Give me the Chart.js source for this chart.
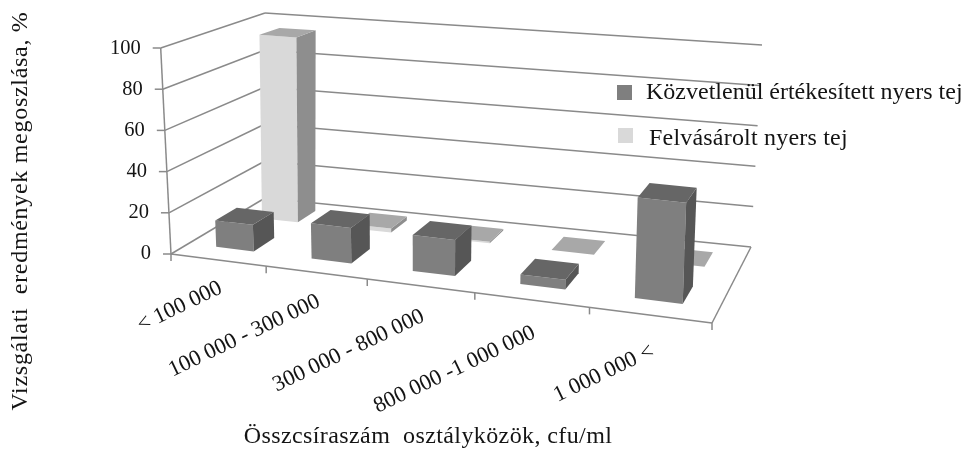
<!DOCTYPE html>
<html>
<head>
<meta charset="utf-8">
<style>
  html, body { margin: 0; background: #fff; }
  #wrap { position: relative; width: 972px; height: 449px; }
  #chart { filter: blur(0.35px); }
</style>
<script src="https://cdn.jsdelivr.net/npm/chart.js@4"></script>
</head>
<body>
<div id="wrap"><canvas id="chart"></canvas></div>
<script>
const categories = ['< 100 000', '100 000 - 300 000', '300 000 - 800 000', '800 000 -1 000 000', '1 000 000 <'];
const directSale = [13, 17, 17, 4.5, 46];
const purchased = [95, 2, 0.7, 0, 0];
const directLabel = 'Közvetlenül értékesített nyers tej';
const purchasedLabel = 'Felvásárolt nyers tej';
const yTitle = 'Vizsgálati  eredmények megoszlása, %';
const xTitle = 'Összcsíraszám  osztályközök, cfu/ml';

const FONT = '"Liberation Serif", serif';
const LINE = '#8a8a8a';
const INK = '#141414';

// floor corners and the height vector at each one (3D look of the original)
const FL = [171, 254], FR = [712, 323], BR = [751, 247], BL = [265, 198];
const riseFL = [-10.3, -206], riseFR = [8, -225], riseBR = [11, -202], riseBL = [0, -185];

const sx = FL[0] - FR[0] + BR[0] - BL[0];
const sy = FL[1] - FR[1] + BR[1] - BL[1];
const dx1 = FR[0] - BR[0], dx2 = BL[0] - BR[0];
const dy1 = FR[1] - BR[1], dy2 = BL[1] - BR[1];
const den = dx1 * dy2 - dx2 * dy1;
const pg = (sx * dy2 - dx2 * sy) / den;
const ph = (dx1 * sy - sx * dy1) / den;

// the original's category spacing along the front edge grows a bit slower
const spread = -0.146;

function project(uIn, d, h) {
  const s = uIn * (1 + spread) / (1 + spread * uIn);
  const u = s / (1 + pg - pg * s);
  const w = pg * u + ph * d + 1;
  const fx = ((FR[0] - FL[0] + pg * FR[0]) * u + (BL[0] - FL[0] + ph * BL[0]) * d + FL[0]) / w;
  const fy = ((FR[1] - FL[1] + pg * FR[1]) * u + (BL[1] - FL[1] + ph * BL[1]) * d + FL[1]) / w;
  const rise = i =>
    (1 - u) * (1 - d) * riseFL[i] + u * (1 - d) * riseFR[i] + u * d * riseBR[i] + (1 - u) * d * riseBL[i];
  return [fx + rise(0) * h, fy + rise(1) * h];
}

function line(ctx, a, b) {
  ctx.beginPath();
  ctx.moveTo(a[0], a[1]);
  ctx.lineTo(b[0], b[1]);
  ctx.stroke();
}

function face(ctx, pts, color) {
  ctx.fillStyle = color;
  ctx.beginPath();
  pts.forEach((p, i) => (i ? ctx.lineTo(p[0], p[1]) : ctx.moveTo(p[0], p[1])));
  ctx.closePath();
  ctx.fill();
}

const rows = [
  { depth: [0.66, 0.87], front: '#d9d9d9', side: '#8e8e8e', top: '#a8a8a8' },
  { depth: [0.17, 0.39], front: '#7f7f7f', side: '#565656', top: '#666666' },
];

const bars3d = {
  id: 'bars3d',
  beforeDatasetsDraw(chart) {
    const { ctx, chartArea: area, scales } = chart;
    const unitU = px => (px - area.left) / area.width;
    const unitH = py => (area.bottom - py) / area.height;

    ctx.save();
    ctx.strokeStyle = LINE;
    ctx.lineWidth = 1.5;

    // walls: one line per y tick
    scales.y.ticks.forEach(t => {
      const h = unitH(scales.y.getPixelForValue(t.value));
      const front = project(0, 0, h);
      line(ctx, [front[0] - 8, front[1]], front);
      line(ctx, front, project(0, 1, h));
      line(ctx, project(0, 1, h), project(1, 1, h));
    });
    line(ctx, project(0, 0, 0), project(0, 0, 1));

    // floor edges and x ticks
    line(ctx, FL, FR);
    line(ctx, FR, BR);
    for (let i = 0; i <= categories.length; i++) {
      const p = project(i / categories.length, 0, 0);
      line(ctx, p, [p[0], p[1] + 7]);
    }

    // back row first, the front row covers it
    [1, 0].forEach(ds => {
      const row = rows[ds === 1 ? 0 : 1];
      const [d0, d1] = row.depth;
      chart.getDatasetMeta(ds).data.forEach(bar => {
        const u0 = unitU(bar.x - bar.width / 2);
        const u1 = unitU(bar.x + bar.width / 2);
        const h = unitH(bar.y);
        face(ctx, [project(u0, d0, 0), project(u1, d0, 0), project(u1, d0, h), project(u0, d0, h)], row.front);
        face(ctx, [project(u1, d0, 0), project(u1, d1, 0), project(u1, d1, h), project(u1, d0, h)], row.side);
        face(ctx, [project(u0, d0, h), project(u1, d0, h), project(u1, d1, h), project(u0, d1, h)], row.top);
      });
    });
    ctx.restore();
    return false;
  },
  afterDraw(chart) {
    const { ctx, chartArea: area, scales } = chart;
    ctx.save();
    ctx.fillStyle = INK;
    ctx.font = '20.5px ' + FONT;

    // y tick labels follow the leaning axis
    ctx.textAlign = 'right';
    ctx.textBaseline = 'middle';
    scales.y.ticks.forEach(t => {
      const py = scales.y.getPixelForValue(t.value);
      const p = project(0, 0, (area.bottom - py) / area.height);
      ctx.fillText(t.label, p[0] - 20, py + 1);
    });

    // x tick labels hang rotated under the front edge
    ctx.font = '22.5px ' + FONT;
    scales.x.ticks.forEach((t, i) => {
      const u = (scales.x.getPixelForTick(i) - area.left) / area.width;
      const p = project(u, 0, 0);
      ctx.save();
      ctx.translate(p[0] + 3, p[1] + 27 + 10 * u * u);
      ctx.rotate(-25.5 * Math.PI / 180);
      ctx.fillText(scales.x.getLabelForValue(t.value), 0, 0);
      ctx.restore();
    });

    // axis titles
    ctx.textAlign = 'center';
    ctx.font = '24px ' + FONT;
    ctx.letterSpacing = '0.4px';
    ctx.fillText(xTitle, 428, 437);
    ctx.letterSpacing = '0.7px';
    ctx.save();
    ctx.translate(21, 211);
    ctx.rotate(-Math.PI / 2);
    ctx.fillText(yTitle, 0, 0);
    ctx.restore();

    // legend
    ctx.textAlign = 'left';
    chart.data.datasets.forEach((ds, i) => {
      ctx.fillStyle = ds.backgroundColor;
      ctx.fillRect(617 + i, i === 0 ? 85 : 128, 15, 15);
      ctx.fillStyle = INK;
      ctx.letterSpacing = i === 0 ? '0px' : '0.2px';
      ctx.fillText(ds.label, 646 + i * 3, i === 0 ? 93 : 139);
    });
    ctx.restore();
  },
};

new Chart(document.getElementById('chart'), {
  type: 'bar',
  data: {
    labels: categories,
    datasets: [
      { label: directLabel, data: directSale, backgroundColor: '#7f7f7f' },
      { label: purchasedLabel, data: purchased, backgroundColor: '#d9d9d9' },
    ],
  },
  options: {
    responsive: true,
    maintainAspectRatio: false,
    animation: false,
    datasets: { bar: { grouped: false, barPercentage: 0.4, categoryPercentage: 1 } },
    layout: { padding: { left: 171, right: 260, top: 48, bottom: 196 } },
    plugins: { legend: { display: false }, tooltip: { enabled: false } },
    scales: {
      x: { display: false },
      y: { display: false, min: 0, max: 100, ticks: { stepSize: 20 } },
    },
  },
  plugins: [bars3d],
});
</script>
</body>
</html>
